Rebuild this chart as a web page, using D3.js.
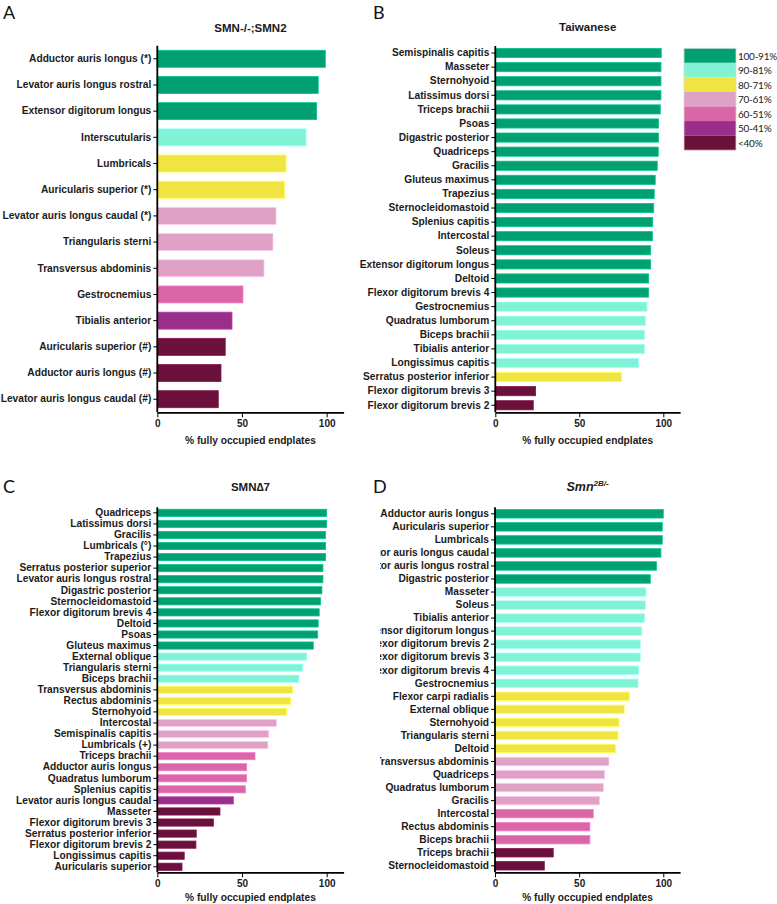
<!DOCTYPE html>
<html>
<head>
<meta charset="utf-8">
<script src="https://cdn.jsdelivr.net/npm/d3@7/dist/d3.min.js"></script>
<style>
  html, body { margin: 0; padding: 0; background: #fff; }
  svg { display: block; }
  .lbl { font-family: "Liberation Sans", Arial, sans-serif; font-weight: bold; }
</style>
</head>
<body>
<svg id="chart" width="777" height="904"></svg>
<script>
// ---------- DATA ----------
const legendLabels = ["100-91%", "90-81%", "80-71%", "70-61%", "60-51%", "50-41%", "<40%"];
const legendColors = ["#00A072", "#7FF3D3", "#F0E442", "#DFA2C5", "#D966A6", "#9A2F8B", "#6B0F3D"];
const xTicks = [0, 50, 100];

const aMuscles = ["Adductor auris longus (*)", "Levator auris longus rostral", "Extensor digitorum longus",
  "Interscutularis", "Lumbricals", "Auricularis superior (*)", "Levator auris longus caudal (*)",
  "Triangularis sterni", "Transversus abdominis", "Gestrocnemius", "Tibialis anterior",
  "Auricularis superior (#)", "Adductor auris longus (#)", "Levator auris longus caudal (#)"];
const aValues = [99.2, 95.0, 94.1, 87.8, 76.0, 75.2, 70.1, 68.3, 63.0, 50.6, 44.1, 40.1, 37.6, 36.0];
const aClass = [0, 0, 0, 1, 2, 2, 3, 3, 3, 4, 5, 6, 6, 6];

const bMuscles = ["Semispinalis capitis", "Masseter", "Sternohyoid", "Latissimus dorsi", "Triceps brachii",
  "Psoas", "Digastric posterior", "Quadriceps", "Gracilis", "Gluteus maximus", "Trapezius",
  "Sternocleidomastoid", "Splenius capitis", "Intercostal", "Soleus", "Extensor digitorum longus",
  "Deltoid", "Flexor digitorum brevis 4", "Gestrocnemius", "Quadratus lumborum", "Biceps brachii",
  "Tibialis anterior", "Longissimus capitis", "Serratus posterior inferior",
  "Flexor digitorum brevis 3", "Flexor digitorum brevis 2"];
const bValues = [98.8, 98.6, 98.6, 98.6, 98.2, 97.2, 97.2, 97.0, 96.4, 95.2, 94.6, 94.3, 93.7, 93.5,
  92.5, 92.5, 91.3, 91.3, 90.3, 89.3, 88.7, 88.7, 85.3, 75.2, 24.0, 22.6];
const bClass = [0,0,0,0,0,0,0,0,0,0,0,0,0,0,0,0,0,0, 1,1,1,1,1, 2, 6,6];

const cMuscles = ["Quadriceps", "Latissimus dorsi", "Gracilis", "Lumbricals (°)", "Trapezius",
  "Serratus posterior superior", "Levator auris longus rostral", "Digastric posterior",
  "Sternocleidomastoid", "Flexor digitorum brevis 4", "Deltoid", "Psoas", "Gluteus maximus",
  "External oblique", "Triangularis sterni", "Biceps brachii", "Transversus abdominis",
  "Rectus abdominis", "Sternohyoid", "Intercostal", "Semispinalis capitis", "Lumbricals (+)",
  "Triceps brachii", "Adductor auris longus", "Quadratus lumborum", "Splenius capitis",
  "Levator auris longus caudal", "Masseter", "Flexor digitorum brevis 3",
  "Serratus posterior inferior", "Flexor digitorum brevis 2", "Longissimus capitis",
  "Auricularis superior"];
const cValues = [100, 100, 99.4, 99.4, 99.4, 97.8, 97.8, 97.2, 96.4, 95.6, 95.0, 94.7, 92.1,
  88.2, 85.8, 83.6, 79.9, 78.7, 76.4, 70.3, 65.8, 65.3, 57.7, 52.8, 52.8, 52.0, 44.9,
  37.0, 33.1, 23.0, 22.8, 15.9, 14.6];
const cClass = [0,0,0,0,0,0,0,0,0,0,0,0,0, 1,1,1, 2,2,2, 3,3,3, 4,4,4,4, 5, 6,6,6,6,6,6];

const dMuscles = ["Adductor auris longus", "Auricularis superior", "Lumbricals",
  "Levator auris longus caudal", "Levator auris longus rostral", "Digastric posterior", "Masseter",
  "Soleus", "Tibialis anterior", "Extensor digitorum longus", "Flexor digitorum brevis 2",
  "Flexor digitorum brevis 3", "Flexor digitorum brevis 4", "Gestrocnemius", "Flexor carpi radialis",
  "External oblique", "Sternohyoid", "Triangularis sterni", "Deltoid", "Transversus abdominis",
  "Quadriceps", "Quadratus lumborum", "Gracilis", "Intercostal", "Rectus abdominis",
  "Biceps brachii", "Triceps brachii", "Sternocleidomastoid"];
const dValues = [100, 99.4, 99.4, 98.6, 96.0, 92.3, 89.7, 89.3, 88.8, 87.2, 86.3, 86.3, 85.2, 85.0,
  80.0, 76.8, 73.7, 73.1, 71.7, 67.7, 65.2, 64.4, 62.2, 58.4, 56.4, 56.4, 34.6, 29.3];
const dClass = [0,0,0,0,0,0, 1,1,1,1,1,1,1,1, 2,2,2,2,2, 3,3,3,3, 4,4,4, 6,6];

const axisTitle = "% fully occupied endplates";

// ---------- DRAW ----------
const svg = d3.select("#chart");
const textCol = "#1b1b1b";

svg.append("defs").append("clipPath").attr("id", "clipD")
  .append("rect").attr("x", 380).attr("y", 0).attr("width", 400).attr("height", 904);

function panel(opts) {
  const g = svg.append("g");
  if (opts.clip) g.attr("clip-path", "url(#" + opts.clip + ")");
  const x = d3.scaleLinear().domain([0, 110]).range([opts.x0, opts.x1]);
  const y = d3.scaleBand().domain(opts.names).range([opts.y0, opts.y1])
    .paddingInner(0.35).paddingOuter(0.175);

  g.selectAll("rect.bar").data(opts.values).join("rect")
    .attr("class", "bar")
    .attr("x", x(0))
    .attr("y", (d, i) => y(opts.names[i]))
    .attr("width", d => x(d) - x(0))
    .attr("height", y.bandwidth())
    .attr("fill", (d, i) => legendColors[opts.cls[i]])
    .attr("stroke", (d, i) => d3.color(legendColors[opts.cls[i]]).brighter(0.6))
    .attr("stroke-width", 0.8);

  const ya = g.append("g").attr("transform", `translate(${x(0)},0)`)
    .call(d3.axisLeft(y).tickSize(4).tickPadding(2).tickSizeOuter(0));
  ya.select(".domain").attr("stroke", "#000").attr("stroke-width", 1.8)
    .attr("d", `M0,${opts.y0}V${opts.y1}`);
  ya.selectAll(".tick line").attr("stroke", "#000").attr("stroke-width", 1);
  ya.selectAll(".tick text").attr("class", "lbl").attr("font-size", 10.2).attr("fill", textCol);

  const xa = g.append("g").attr("transform", `translate(0,${opts.y1})`)
    .call(d3.axisBottom(x).tickValues(xTicks).tickSize(5).tickPadding(2.5).tickSizeOuter(0));
  xa.select(".domain").attr("stroke", "#000").attr("stroke-width", 1.8);
  xa.selectAll(".tick line").attr("stroke", "#000").attr("stroke-width", 1);
  xa.selectAll(".tick text").attr("class", "lbl").attr("font-size", 10).attr("fill", textCol);

  g.append("text").attr("class", "lbl").attr("font-size", 10.2).attr("fill", textCol)
    .attr("text-anchor", "middle")
    .attr("x", (opts.x0 + opts.x1) / 2).attr("y", opts.titleY)
    .text(axisTitle);

  const t = svg.append("text").attr("class", "lbl").attr("font-size", 11.5).attr("fill", textCol)
    .attr("text-anchor", "middle")
    .attr("x", (opts.x0 + opts.x1) / 2).attr("y", opts.headY);
  if (opts.italicHead) {
    t.append("tspan").attr("font-style", "italic").attr("font-size", 12.5).text(opts.head[0]);
    t.append("tspan").attr("font-style", "italic").attr("font-size", 8).attr("dy", -5).text(opts.head[1]);
  } else {
    t.text(opts.head);
  }

  svg.append("text").attr("x", opts.letterX).attr("y", opts.letterY)
    .attr("font-family", "Lato, 'Open Sans', sans-serif").attr("font-size", 18)
    .attr("fill", "#111").text(opts.letter);
}

panel({ names: aMuscles, values: aValues, cls: aClass, x0: 157.3, x1: 343.6, y0: 45.7, y1: 412.3,
  titleY: 444, head: "SMN-/-;SMN2", headY: 31.5, letter: "A", letterX: 3, letterY: 19 });
panel({ names: bMuscles, values: bValues, cls: bClass, x0: 495.3, x1: 680.1, y0: 46, y1: 412.3,
  titleY: 444, head: "Taiwanese", headY: 30.5, letter: "B", letterX: 373, letterY: 19 });
panel({ names: cMuscles, values: cValues, cls: cClass, x0: 157.3, x1: 343.6, y0: 507.3, y1: 872.3,
  titleY: 900.5, head: "SMN\u22067", headY: 491, letter: "C", letterX: 3, letterY: 493 });
panel({ names: dMuscles, values: dValues, cls: dClass, x0: 495, x1: 680.1, y0: 507.3, y1: 872.3,
  titleY: 900.5, head: ["Smn", "2B/-"], italicHead: true, headY: 491, letter: "D", letterX: 373, letterY: 493,
  clip: "clipD" });

// Legend
const lg = svg.append("g");
const sw = 14.55;
lg.selectAll("rect").data(legendColors).join("rect")
  .attr("x", 684).attr("y", (d, i) => 48.3 + i * sw)
  .attr("width", 52).attr("height", sw)
  .attr("fill", d => d);
lg.append("rect").attr("x", 684).attr("y", 48.3).attr("width", 52).attr("height", sw * 7)
  .attr("fill", "none").attr("stroke", "#d8d8d8").attr("stroke-width", 0.8);
lg.selectAll("text").data(legendLabels).join("text")
  .attr("x", 738).attr("y", (d, i) => 48.3 + i * sw + sw / 2 + 4)
  .attr("font-family", "Lato, 'Open Sans', sans-serif").attr("font-size", 10)
  .attr("letter-spacing", -0.25)
  .attr("fill", "#222").text(d => d);
</script>
</body>
</html>
